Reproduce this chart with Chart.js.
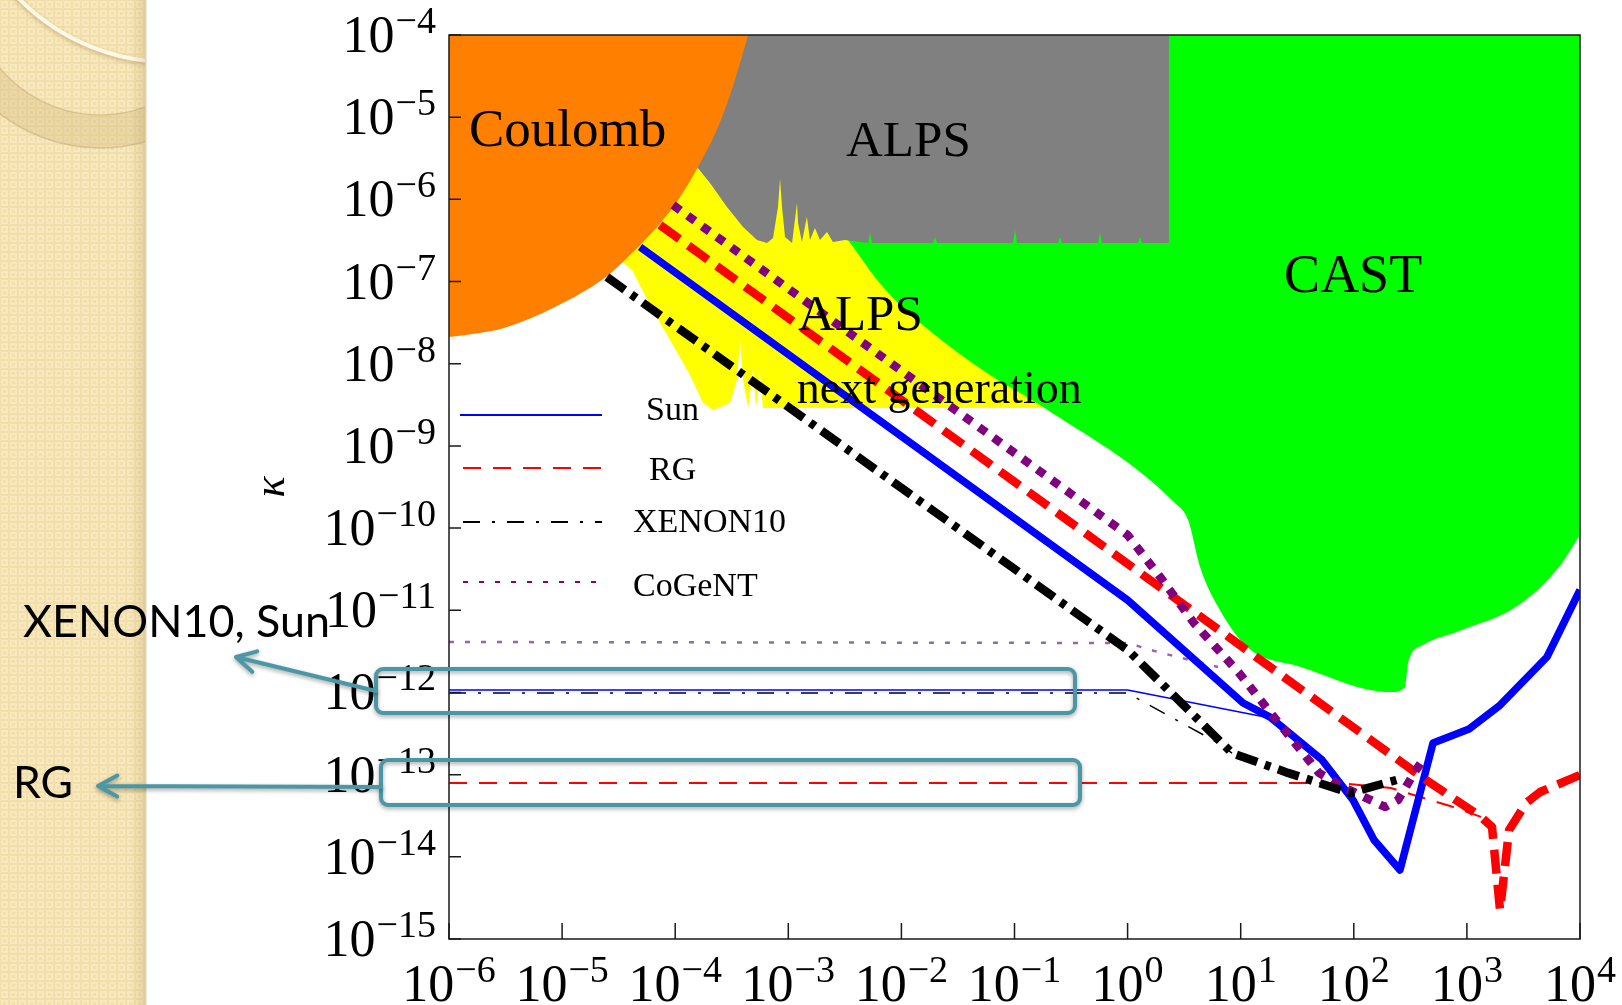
<!DOCTYPE html>
<html>
<head>
<meta charset="utf-8">
<title>Hidden photon limits</title>
<script src="https://cdn.jsdelivr.net/npm/chart.js@4.4.0/dist/chart.umd.min.js"></script>
<style>
  html, body { margin: 0; padding: 0; background: #fff; overflow: hidden; }
  #wrap { position: relative; width: 1622px; height: 1005px; }
</style>
</head>
<body>
<div id="wrap"><canvas id="c"></canvas></div>
<script>
// ---- axis decades (exponents of 10) ----
const massDecades = [-6, -5, -4, -3, -2, -1, 0, 1, 2, 3, 4];
const kappaDecades = [-4, -5, -6, -7, -8, -9, -10, -11, -12, -13, -14, -15];

// ---- excluded regions: lower boundary kappa(mass), filled up to the top ----
const coulombMass  = [1e-6, 1.84e-6, 3.06e-6, 8.65e-6, 2.44e-5, 4.15e-5, 6.9e-5, 1.06e-4, 1.59e-4, 2.39e-4, 3.31e-4, 4.41e-4];
const coulombKappa = [2.11e-8, 2.37e-8, 2.72e-8, 4.9e-8, 1.135e-7, 2.22e-7, 4.61e-7, 9.8e-7, 2.48e-6, 7.6e-6, 2.61e-5, 1e-4];

const alpsMass = [1.56e-4, 2.03e-4, 2.87e-4, 3.98e-4, 5.29e-4, 6.49e-4, 7.33e-4, 8.11e-4, 8.45e-4, 8.8e-4, 9.35e-4,
  1.08e-3, 1.194e-3, 1.22e-3, 1.32e-3, 1.46e-3, 1.556e-3, 1.72e-3, 1.905e-3, 2.2e-3, 2.48e-3, 3.17e-3,
  5.07e-3, 5.28e-3, 5.5e-3, 0.01905, 0.01982, 0.02065, 0.097, 0.1012, 0.1052, 0.2427, 0.2523, 0.263,
  0.547, 0.570, 0.594, 1.236, 1.288, 1.343, 2.32];
const alpsKappa = [2.48e-6, 1.58e-6, 8.07e-7, 4.61e-7, 3.21e-7, 2.94e-7, 3.39e-7, 8.07e-7, 1.77e-6, 8.07e-7, 3.48e-7,
  2.94e-7, 9.03e-7, 5.15e-7, 3.03e-7, 6.1e-7, 3.21e-7, 4.49e-7, 3.21e-7, 4.01e-7, 3.03e-7, 3.21e-7,
  2.94e-7, 3.9e-7, 2.94e-7, 2.94e-7, 3.48e-7, 2.94e-7, 2.94e-7, 4.24e-7, 2.94e-7, 2.94e-7, 3.48e-7, 2.94e-7,
  2.94e-7, 3.9e-7, 2.94e-7, 2.94e-7, 3.48e-7, 2.94e-7, 2.94e-7];

const alpsNextMass  = [3.39e-5, 4.15e-5, 5.98e-5, 8.99e-5, 1.35e-4, 1.76e-4, 2.16e-4, 3.05e-4, 3.52e-4, 3.74e-4, 3.98e-4,
  4.41e-4, 4.87e-4, 5.18e-4, 5.62e-4, 5.97e-4, 0.179];
const alpsNextKappa = [1.73e-7, 1.38e-7, 5.19e-8, 1.94e-8, 7.3e-9, 3.33e-9, 2.73e-9, 3.33e-9, 6.34e-9, 1.94e-8, 6.34e-9,
  2.89e-9, 8.39e-9, 2.89e-9, 7.71e-9, 2.89e-9, 2.89e-9];

const castMass  = [3.37e-3, 6.87e-3, 0.0162, 0.0571, 0.179, 2.62, 3.42, 4.37, 6.31, 11.4, 34.1, 209, 284, 302, 409, 906, 2716, 6531, 1e4];
const castKappa = [3.21e-7, 8.59e-8, 2.8e-8, 7.71e-9, 2.97e-9, 2.02e-10, 1.26e-10, 3.37e-11, 1.1e-11, 3.57e-12, 2.04e-12,
  1.01e-12, 1.16e-12, 2.28e-12, 3.78e-12, 5.75e-12, 1.1e-11, 3.37e-11, 8.24e-11];

// ---- sensitivity curves ----
const sunMass  = [4.89e-5, 1, 10.5, 18.2, 52.4, 98.4, 151, 256, 502, 1045, 1963, 5105, 1e4];
const sunKappa = [2.63e-7, 1.33e-11, 7.45e-13, 5.02e-13, 1.51e-13, 4.91e-14, 1.6e-14, 6.92e-15, 2.43e-13, 3.59e-13, 7.0e-13, 2.7e-12, 1.77e-11];
const sunLowMass  = [1e-6, 1, 18.2];
const sunLowKappa = [1.07e-12, 1.07e-12, 4.89e-13];

const rgMass  = [7.34e-5, 435, 1334, 1667, 1963, 2360, 3334, 4436, 1e4];
const rgKappa = [4.88e-7, 8.61e-14, 3.06e-14, 2.31e-14, 2.25e-15, 2.12e-14, 4.52e-14, 6.15e-14, 9.9e-14];
const rgLowMass  = [1e-6, 75.5, 213, 710, 1334];
const rgLowKappa = [7.91e-14, 7.91e-14, 6.87e-14, 4.15e-14, 3.06e-14];

const xenonMass  = [2.49e-5, 1, 8.38, 26.2, 92.7, 256];
const xenonKappa = [1.135e-7, 3.29e-12, 1.83e-13, 1.05e-13, 5.98e-14, 8.85e-14];
const xenonLowMass  = [1e-6, 1, 1.29, 6.31, 8.38];
const xenonLowKappa = [9.84e-13, 9.84e-13, 8.09e-13, 2.43e-13, 1.83e-13];

const cogentMass  = [9.57e-5, 1, 1.94, 3.86, 9.66, 19.7, 49.2, 80.4, 189, 246, 355, 409];
const cogentKappa = [8.53e-7, 8.24e-11, 2.54e-11, 7.0e-12, 1.73e-12, 5.02e-13, 1.05e-13, 7.08e-14, 4.04e-14, 4.91e-14, 1.14e-13, 1.51e-13];
const cogentLowMass  = [1e-6, 1, 1.86, 6.31];
const cogentLowKappa = [4.11e-12, 4.0e-12, 3.1e-12, 2.04e-12];

// ---- text ----
const legendNames = ['Sun', 'RG', 'XENON10', 'CoGeNT'];
const regionNames = ['Coulomb', 'ALPS', 'CAST', 'ALPS', 'next generation'];
const regionNameMass  = [1.5e-6, 3.24e-3, 24.2, 1.22e-3, 1.19e-3];
const regionNameKappa = [4.46e-6, 3.37e-6, 7.46e-8, 2.57e-8, 3.33e-9];

const pts = (xs, ys) => xs.map((x, i) => ({ x, y: ys[i] }));

const SERIF = '"Liberation Serif", "Times New Roman", serif';

function region(label, xs, ys, color, order, smooth) {
  return {
    label, data: pts(xs, ys), fill: 'end', backgroundColor: color, borderColor: color,
    borderWidth: 0, pointRadius: 0, order, tension: 0,
    cubicInterpolationMode: smooth ? 'monotone' : 'default'
  };
}
function curve(label, xs, ys, color, width, dash, order) {
  return {
    label, data: pts(xs, ys), fill: false, borderColor: color, backgroundColor: color,
    borderWidth: width, borderDash: dash, pointRadius: 0, order, tension: 0,
    borderCapStyle: 'butt', borderJoinStyle: 'round'
  };
}

const BLUE = '#0000ff', RED = '#ff0000', BLACK = '#000000', PURPLE = '#800080';
const thinStyles = [
  { color: BLUE, width: 2, dash: [] },
  { color: RED, width: 2, dash: [18, 12] },
  { color: BLACK, width: 2, dash: [17, 12, 3, 12] },
  { color: PURPLE, width: 2, dash: [5, 11] }
];

const datasets = [
  region('ALPS next generation', alpsNextMass, alpsNextKappa, '#ffff00', 100, false),
  region('CAST', castMass, castKappa, '#00ff00', 90, true),
  region('ALPS', alpsMass, alpsKappa, '#808080', 80, false),
  region('Coulomb', coulombMass, coulombKappa, '#ff8000', 70, true),

  curve('Sun (low mass)', sunLowMass, sunLowKappa, BLUE, 1.5, [], 23),
  curve('RG (low mass)', rgLowMass, rgLowKappa, RED, 2, [18, 12], 22),
  curve('XENON10 (low mass)', xenonLowMass, xenonLowKappa, BLACK, 1.5, [17, 12, 3, 12], 21),
  curve('CoGeNT (low mass)', cogentLowMass, cogentLowKappa, '#a060b0', 2.5, [5, 11], 20),

  curve('Sun', sunMass, sunKappa, BLUE, 7.5, [], 13),
  curve('RG', rgMass, rgKappa, RED, 8.5, [24, 11], 12),
  curve('CoGeNT', cogentMass, cogentKappa, PURPLE, 8.5, [9, 9], 11),
  curve('XENON10', xenonMass, xenonKappa, BLACK, 8.5, [22, 8, 6, 8], 10)
];

// ---- slide background: textured side band with ring ornament ----
const backdrop = {
  id: 'backdrop',
  beforeDraw(chart) {
    const ctx = chart.ctx, H = chart.height, bandW = 145;
    ctx.save();
    ctx.fillStyle = '#ffffff';
    ctx.fillRect(0, 0, chart.width, H);

    const tile = document.createElement('canvas');
    tile.width = tile.height = 9;
    const t = tile.getContext('2d');
    t.fillStyle = '#f2dea8'; t.fillRect(0, 0, 9, 9);
    t.fillStyle = '#f7e8bf'; t.fillRect(1, 1, 7, 7);
    t.fillStyle = '#f2dfaa'; t.fillRect(3, 3, 3, 3);
    ctx.fillStyle = ctx.createPattern(tile, 'repeat');
    ctx.fillRect(0, 0, bandW, H);

    ctx.beginPath(); ctx.rect(0, 0, bandW, H); ctx.clip();

    // ring
    ctx.beginPath();
    ctx.arc(100, -15, 163, 0, Math.PI * 2);
    ctx.arc(100, -15, 130, 0, Math.PI * 2, true);
    ctx.fillStyle = 'rgba(205, 178, 118, 0.30)';
    ctx.fill();
    ctx.lineWidth = 1.5;
    ctx.strokeStyle = 'rgba(170, 145, 95, 0.35)';
    ctx.beginPath(); ctx.arc(100, -15, 163, 0, Math.PI * 2); ctx.stroke();
    ctx.strokeStyle = 'rgba(190, 165, 115, 0.45)';
    ctx.beginPath(); ctx.arc(100, -15, 130, 0, Math.PI * 2); ctx.stroke();

    // highlight arc
    ctx.save();
    ctx.shadowColor = 'rgba(150, 120, 60, 0.45)';
    ctx.shadowBlur = 4; ctx.shadowOffsetY = 2;
    ctx.strokeStyle = '#fff8e6'; ctx.lineWidth = 4;
    ctx.beginPath(); ctx.arc(170, -150, 212, 0, Math.PI * 2); ctx.stroke();
    ctx.restore();

    // edge shading
    const g = ctx.createLinearGradient(130, 0, bandW, 0);
    g.addColorStop(0, 'rgba(170, 140, 80, 0)');
    g.addColorStop(1, 'rgba(170, 140, 80, 0.22)');
    ctx.fillStyle = g; ctx.fillRect(130, 0, bandW - 130, H);
    ctx.restore();

    ctx.save();
    ctx.fillStyle = '#d9d3c6';
    ctx.fillRect(bandW, 0, 1.5, H);
    ctx.restore();
  }
};

function drawPower(ctx, exp, x, base, align) {
  const expText = exp < 0 ? '\u2212' + Math.abs(exp) : String(exp);
  ctx.font = '52px ' + SERIF;
  const w1 = ctx.measureText('10').width;
  ctx.font = '38px ' + SERIF;
  const w2 = ctx.measureText(expText).width;
  const gap = 1;
  const total = w1 + gap + w2;
  const left = align === 'right' ? x - total : x - total / 2;
  ctx.font = '52px ' + SERIF;
  ctx.fillText('10', left, base);
  ctx.font = '38px ' + SERIF;
  ctx.fillText(expText, left + w1 + gap, base - 19);
}

// ---- frame, inner ticks, labels, legend ----
const frame = {
  id: 'frame',
  afterDatasetsDraw(chart) {
    const { ctx, chartArea: a, scales: { x, y } } = chart;
    ctx.save();
    ctx.fillStyle = '#000';
    ctx.textAlign = 'left';
    ctx.textBaseline = 'alphabetic';

    // region names
    const sizes = [53, 51, 54, 51, 46];
    regionNames.forEach((name, i) => {
      ctx.font = sizes[i] + 'px ' + SERIF;
      ctx.fillText(name, x.getPixelForValue(regionNameMass[i]), y.getPixelForValue(regionNameKappa[i]));
    });

    // legend
    const rowsY = [415, 468, 522, 582];
    const textX = [646, 649, 633, 633];
    const textY = [420, 480, 532, 596];
    legendNames.forEach((name, i) => {
      const s = thinStyles[i];
      ctx.save();
      ctx.strokeStyle = s.color; ctx.lineWidth = s.width; ctx.setLineDash(s.dash);
      ctx.beginPath(); ctx.moveTo(i === 0 ? 460 : 463, rowsY[i]); ctx.lineTo(602, rowsY[i]); ctx.stroke();
      ctx.restore();
      ctx.font = '34px ' + SERIF;
      ctx.fillText(name, textX[i], textY[i]);
    });

    // frame
    ctx.strokeStyle = '#1a1a1a';
    ctx.lineWidth = 1.5;
    ctx.strokeRect(a.left, a.top, a.right - a.left, a.bottom - a.top);

    // inner ticks
    ctx.beginPath();
    massDecades.forEach(e => {
      const px = x.getPixelForValue(Math.pow(10, e));
      ctx.moveTo(px, a.bottom); ctx.lineTo(px, a.bottom - 16);
    });
    kappaDecades.forEach(e => {
      const py = y.getPixelForValue(Math.pow(10, e));
      ctx.moveTo(a.left, py); ctx.lineTo(a.left + 12, py);
    });
    ctx.stroke();

    // tick labels
    massDecades.forEach(e => drawPower(ctx, e, x.getPixelForValue(Math.pow(10, e)), a.bottom + 62, 'center'));
    kappaDecades.forEach(e => drawPower(ctx, e, a.left - 13, y.getPixelForValue(Math.pow(10, e)) + 17, 'right'));

    // y-axis title
    ctx.save();
    ctx.translate(272, 487);
    ctx.rotate(-Math.PI / 2);
    ctx.textAlign = 'center';
    ctx.textBaseline = 'middle';
    ctx.font = 'italic 44px ' + SERIF;
    ctx.fillText('\u03ba', 0, 0);
    ctx.restore();

    ctx.restore();
  }
};

// ---- slide call-outs ----
function roundRect(ctx, x, y, w, h, r) {
  ctx.beginPath();
  ctx.moveTo(x + r, y);
  ctx.lineTo(x + w - r, y); ctx.arcTo(x + w, y, x + w, y + r, r);
  ctx.lineTo(x + w, y + h - r); ctx.arcTo(x + w, y + h, x + w - r, y + h, r);
  ctx.lineTo(x + r, y + h); ctx.arcTo(x, y + h, x, y + h - r, r);
  ctx.lineTo(x, y + r); ctx.arcTo(x, y, x + r, y, r);
  ctx.closePath();
}
function arrow(ctx, x0, y0, x1, y1) {
  const ang = Math.atan2(y0 - y1, x0 - x1), L = 22, spread = 0.5;
  ctx.beginPath();
  ctx.moveTo(x0, y0); ctx.lineTo(x1, y1);
  ctx.moveTo(x1 + L * Math.cos(ang + spread), y1 + L * Math.sin(ang + spread));
  ctx.lineTo(x1, y1);
  ctx.lineTo(x1 + L * Math.cos(ang - spread), y1 + L * Math.sin(ang - spread));
  ctx.stroke();
}
function fitText(ctx, text, x, base, width) {
  const w = ctx.measureText(text).width;
  ctx.save();
  ctx.translate(x, base);
  ctx.scale(width / w, 1);
  ctx.fillText(text, 0, 0);
  ctx.restore();
}

const callouts = {
  id: 'callouts',
  afterDraw(chart) {
    const ctx = chart.ctx;
    ctx.save();
    ctx.strokeStyle = '#4a98a6';
    ctx.lineWidth = 4;
    ctx.lineCap = 'round';
    ctx.lineJoin = 'round';
    ctx.shadowColor = 'rgba(0, 0, 0, 0.35)';
    ctx.shadowBlur = 4;
    ctx.shadowOffsetY = 2;
    roundRect(ctx, 376, 669, 699, 44, 7); ctx.stroke();
    roundRect(ctx, 381, 760, 699, 45, 7); ctx.stroke();
    arrow(ctx, 376, 691, 236, 657);
    arrow(ctx, 381, 787, 98, 786);
    ctx.restore();

    ctx.save();
    ctx.fillStyle = '#000';
    ctx.textBaseline = 'alphabetic';
    ctx.font = '44px Lato, "Open Sans", sans-serif';
    fitText(ctx, 'XENON10, Sun', 23, 637, 307);
    fitText(ctx, 'RG', 13, 798, 60);
    ctx.restore();
  }
};

new Chart(document.getElementById('c'), {
  type: 'line',
  data: { datasets },
  options: {
    responsive: true,
    maintainAspectRatio: false,
    animation: false,
    devicePixelRatio: 1,
    events: [],
    layout: { padding: { left: 449, top: 35, right: 42, bottom: 66 } },
    plugins: { legend: { display: false }, tooltip: { enabled: false } },
    scales: {
      x: { type: 'logarithmic', min: 1e-6, max: 1e4, display: false },
      y: { type: 'logarithmic', min: 1e-15, max: 1e-4, display: false }
    }
  },
  plugins: [backdrop, frame, callouts]
});
</script>
</body>
</html>
